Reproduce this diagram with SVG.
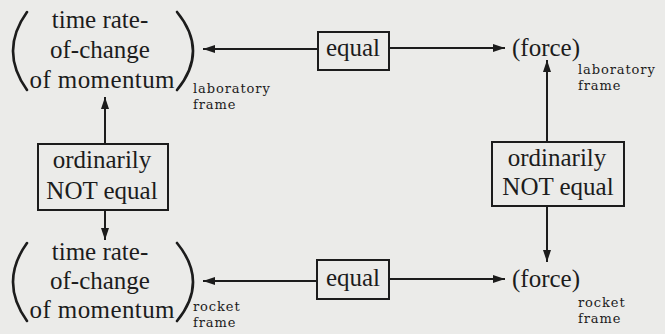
<svg xmlns="http://www.w3.org/2000/svg" width="665" height="334" viewBox="0 0 665 334">
<defs>
<style>
.bg{fill:#ebebe9}
.t{font-family:"Liberation Serif","Times New Roman",serif;font-size:25px;fill:#1c1c1c}
.m{text-anchor:middle}
.s{font-family:"DejaVu Serif","Liberation Serif",serif;font-size:13px;letter-spacing:0.9px;fill:#1c1c1c}
.box{fill:none;stroke:#1c1c1c;stroke-width:2}
.par{fill:none;stroke:#1c1c1c;stroke-width:2.6;stroke-linecap:round}
.c{stroke:#1c1c1c;stroke-width:2;fill:none;marker-end:url(#ah)}
</style>
<marker id="ah" markerUnits="userSpaceOnUse" markerWidth="12" markerHeight="8" refX="12" refY="4" orient="auto">
<path d="M0,0 L12,4 L0,8 z" fill="#1c1c1c"/>
</marker>
</defs>
<rect class="bg" x="0" y="0" width="665" height="334"/>

<g id="momentum-lab">
<path class="par" d="M27,12 Q-1,51 27,90"/>
<path class="par" d="M177,12 Q209,51 177,90"/>
<text class="t m" x="100" y="28">time rate-</text>
<text class="t m" x="100" y="58">of-change</text>
<text class="t m" x="102" y="88" textLength="145" lengthAdjust="spacing">of momentum</text>
<text class="s" x="193" y="93">laboratory</text>
<text class="s" x="193" y="109">frame</text>
</g>

<g id="equal-lab">
<rect class="box" x="318" y="32" width="71" height="38"/>
<text class="t m" x="353" y="56">equal</text>
</g>

<g id="force-lab">
<text class="t" x="512" y="56">(force)</text>
<text class="s" x="578" y="74">laboratory</text>
<text class="s" x="578" y="90">frame</text>
</g>

<g id="not-equal-left">
<rect class="box" x="38" y="144" width="130" height="66"/>
<text class="t m" x="102" y="168">ordinarily</text>
<text class="t m" x="102" y="199">NOT equal</text>
</g>

<g id="not-equal-right">
<rect class="box" x="492" y="142" width="132" height="64"/>
<text class="t m" x="557" y="166">ordinarily</text>
<text class="t m" x="558" y="195">NOT equal</text>
</g>

<g id="momentum-rocket">
<path class="par" d="M27,243 Q-1,282 27,321"/>
<path class="par" d="M177,243 Q209,282 177,321"/>
<text class="t m" x="100" y="260">time rate-</text>
<text class="t m" x="100" y="289">of-change</text>
<text class="t m" x="102" y="318" textLength="145" lengthAdjust="spacing">of momentum</text>
<text class="s" x="193" y="311">rocket</text>
<text class="s" x="193" y="327">frame</text>
</g>

<g id="equal-rocket">
<rect class="box" x="317" y="260" width="72" height="39"/>
<text class="t m" x="353" y="286">equal</text>
</g>

<g id="force-rocket">
<text class="t" x="512" y="287">(force)</text>
<text class="s" x="578" y="307">rocket</text>
<text class="s" x="578" y="323">frame</text>
</g>

<g id="connectors">
<line class="c" x1="318" y1="49" x2="203" y2="49"/>
<line class="c" x1="389" y1="48" x2="505" y2="48"/>
<line class="c" x1="105" y1="144" x2="105" y2="97"/>
<line class="c" x1="105" y1="210" x2="105" y2="240"/>
<line class="c" x1="547" y1="142" x2="547" y2="60"/>
<line class="c" x1="547" y1="206" x2="547" y2="262"/>
<line class="c" x1="317" y1="281" x2="203" y2="281"/>
<line class="c" x1="389" y1="279" x2="505" y2="279"/>
</g>
</svg>
